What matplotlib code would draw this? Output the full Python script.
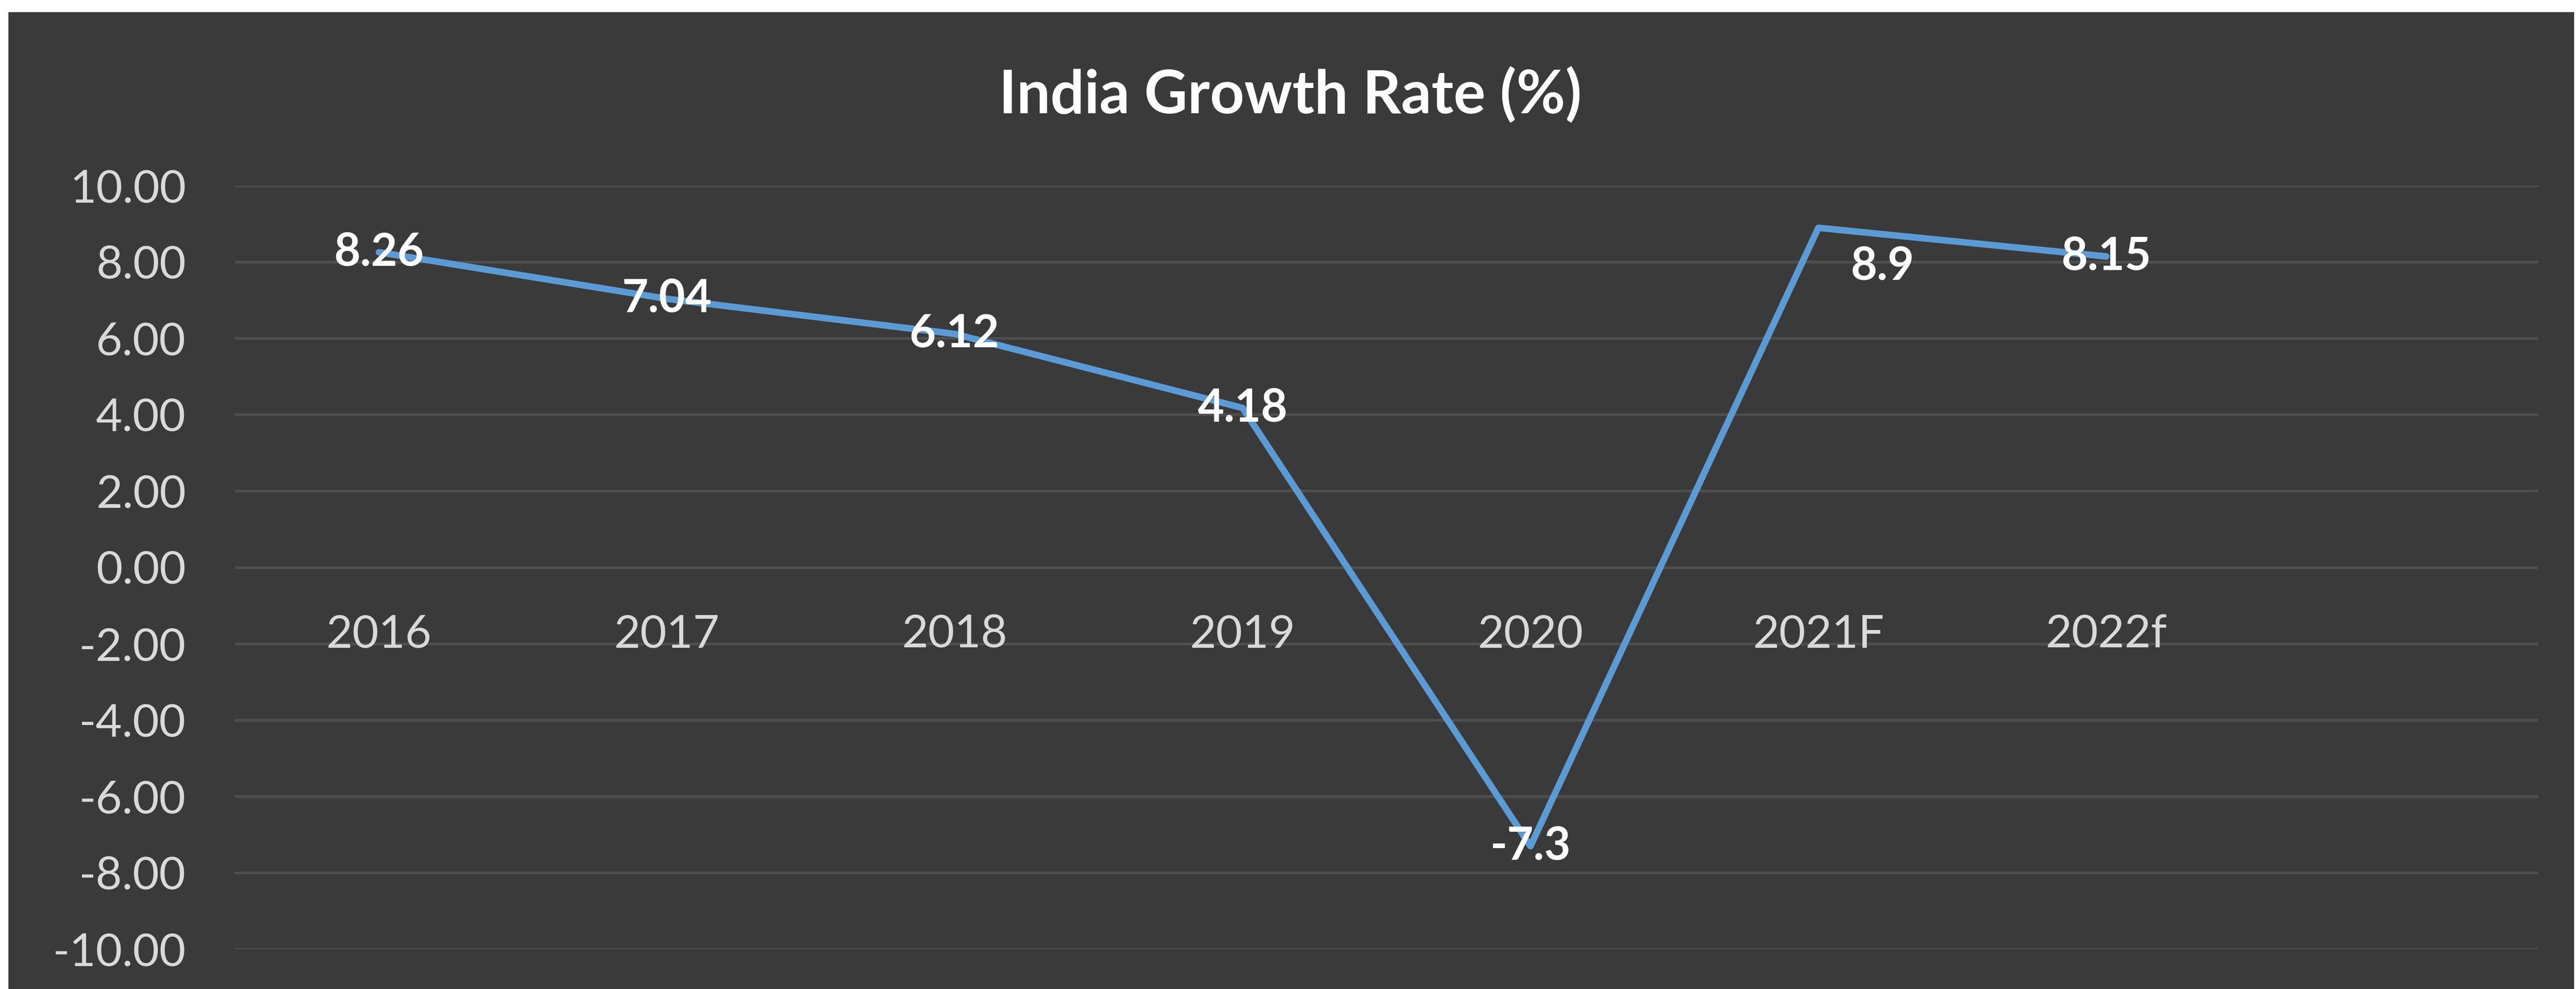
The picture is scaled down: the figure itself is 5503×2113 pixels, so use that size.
import matplotlib
matplotlib.use('Agg')
import matplotlib.pyplot as plt
from matplotlib.patches import Rectangle
from matplotlib.ticker import FormatStrFormatter

# ---- data ----
categories = ['2016', '2017', '2018', '2019', '2020', '2021F', '2022f']
growth = [8.26, 7.04, 6.12, 4.18, -7.3, 8.9, 8.15]
value_labels = ['8.26', '7.04', '6.12', '4.18', '-7.3', '8.9', '8.15']
yticks = [-10, -8, -6, -4, -2, 0, 2, 4, 6, 8, 10]
title = 'India Growth Rate (%)'

# ---- style ----
plt.rcParams['font.family'] = ['Lato', 'DejaVu Sans']
plt.rcParams['axes.unicode_minus'] = False

W, H = 5503, 2113
DPI = 100
PX = 72 / DPI  # points per pixel

BG = '#3a3a3a'
GRID = '#4e4e4e'
LINE = '#5B9BD5'
TICK = '#d9d9d9'

fig = plt.figure(figsize=(W / DPI, H / DPI), dpi=DPI, facecolor='white')
fig.patches.append(Rectangle((18 / W, 0), (5499 - 18) / W, 1 - 26 / H,
                             transform=fig.transFigure, facecolor=BG,
                             edgecolor='none', zorder=-10))

ax = fig.add_axes([502 / W, 1 - 2028 / H, (5422 - 502) / W, (2028 - 397) / H])
ax.set_zorder(1)
ax.set_facecolor('none')
ax.set_xlim(-0.5, len(categories) + 0.5)
ax.set_ylim(min(yticks), max(yticks))
ax.set_yticks(yticks)
ax.yaxis.set_major_formatter(FormatStrFormatter('%.2f'))
ax.grid(axis='y', color=GRID, lw=6 * PX)
ax.grid(axis='x', visible=False)
ax.set_axisbelow(True)
ax.xaxis.set_zorder(1.0)  # category labels above the y gridlines
for s in ax.spines.values():
    s.set_visible(False)
ax.spines['bottom'].set_position(('data', 0))
ax.set_xticks(range(len(categories)), categories)
ax.tick_params(axis='y', length=0, pad=105 * PX, labelsize=70, labelcolor=TICK)
ax.tick_params(axis='x', length=0, pad=100 * PX, labelsize=70, labelcolor=TICK)

x = list(range(len(categories)))
ax.plot(x, growth, color=LINE, lw=14 * PX, solid_joinstyle='round',
        solid_capstyle='round', zorder=3)

label_offsets_px = {5: (137, -82)}
for i, (v, lab) in enumerate(zip(growth, value_labels)):
    dx, dy = label_offsets_px.get(i, (0, 0))
    ax.annotate(lab, (i, v), xytext=(dx * PX, dy * PX), textcoords='offset points',
                ha='center', va='center', fontsize=70, fontweight='bold',
                color='white', zorder=4)

fig.text(2756 / W, 1 - 243 / H, title, ha='center', va='baseline',
         fontsize=92, fontweight='bold', color='white', zorder=2)

fig.savefig('out.png', dpi=DPI, facecolor='white')
